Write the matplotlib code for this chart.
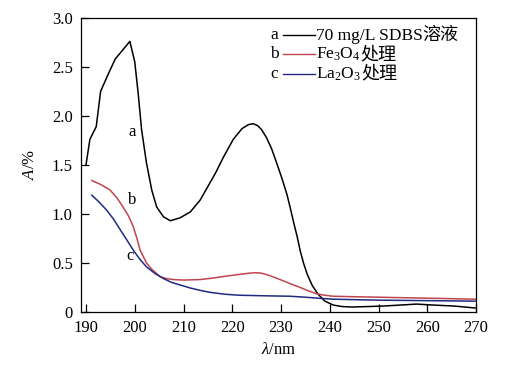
import matplotlib
matplotlib.use("Agg")
import matplotlib.pyplot as plt
from matplotlib.lines import Line2D
from matplotlib.ticker import FuncFormatter
from matplotlib.offsetbox import TextArea, HPacker, AnnotationBbox

plt.rcParams['font.family'] = ['Liberation Serif', 'Noto Sans CJK SC']
plt.rcParams['mathtext.fontset'] = 'custom'
plt.rcParams['mathtext.rm'] = 'Liberation Serif'
plt.rcParams['mathtext.it'] = 'Liberation Serif:italic'

# curve a: 70 mg/L SDBS solution
wl_a = [190.0, 190.8, 192.1, 193.0, 194.6, 196.0, 197.0, 198.0, 199.0, 200.0,
        200.7, 201.4, 202.4, 203.5, 204.5, 205.9, 207.3, 209.3, 211.4, 213.4,
        215.0, 216.6, 218.2, 220.2, 222.0, 223.3, 224.3, 225.2, 226.0, 227.0,
        228.1, 229.1, 230.2, 231.2, 231.9, 232.6, 233.3, 233.9, 234.6, 235.4,
        236.4, 237.6, 239.0, 240.7, 242.5, 244.5, 248.0, 251.0, 254.5, 257.8,
        261.2, 265.5, 269.8]
abs_a = [1.50, 1.76, 1.89, 2.25, 2.43, 2.58, 2.64, 2.70, 2.76, 2.55,
         2.23, 1.86, 1.52, 1.24, 1.07, 0.97, 0.93, 0.96, 1.02, 1.14,
         1.28, 1.42, 1.58, 1.76, 1.87, 1.91, 1.92, 1.90, 1.86, 1.78,
         1.66, 1.52, 1.36, 1.20, 1.06, 0.91, 0.77, 0.63, 0.50, 0.38,
         0.27, 0.18, 0.11, 0.07, 0.055, 0.05, 0.055, 0.06, 0.07, 0.08,
         0.07, 0.06, 0.04]

# curve b: Fe3O4 treated
wl_b = [191.2, 193.0, 194.9, 196.4, 197.6, 198.7, 199.7, 200.5, 201.1, 201.8,
        202.4, 203.4, 204.3, 205.2, 206.5, 207.9, 210.0, 213.4, 216.0, 218.0,
        221.0, 223.5, 224.7, 226.0, 227.7, 229.8, 231.8, 233.9, 235.6, 237.3,
        239.0, 240.7, 245.0, 250.0, 255.0, 260.0, 265.0, 269.8]
abs_b = [1.34, 1.30, 1.245, 1.16, 1.07, 0.98, 0.87, 0.74, 0.63, 0.56,
         0.50, 0.44, 0.40, 0.36, 0.34, 0.33, 0.325, 0.33, 0.345, 0.36,
         0.38, 0.395, 0.40, 0.395, 0.37, 0.33, 0.29, 0.25, 0.215, 0.185,
         0.17, 0.16, 0.155, 0.15, 0.145, 0.14, 0.135, 0.13]

# curve c: La2O3 treated
wl_c = [191.2, 192.7, 194.2, 195.6, 197.0, 198.3, 199.7, 201.0, 202.4, 204.2,
        205.9, 207.6, 209.3, 211.3, 213.4, 215.4, 218.5, 221.6, 226.0, 231.8,
        235.0, 237.6, 240.7, 245.0, 250.0, 260.0, 269.8]
abs_c = [1.19, 1.12, 1.04, 0.95, 0.84, 0.74, 0.63, 0.54, 0.46, 0.39,
         0.34, 0.30, 0.275, 0.245, 0.22, 0.20, 0.18, 0.17, 0.165, 0.16,
         0.15, 0.14, 0.13, 0.125, 0.12, 0.115, 0.11]

legend_tags = ["a", "b", "c"]
legend_formula = ["70 mg/L SDBS", "Fe$_3$O$_4$", "La$_2$O$_3$"]
legend_suffix = ["溶液", "处理", "处理"]
colors = ["black", "#c0444f", "#1f2a80"]

fig = plt.figure(figsize=(5.07, 3.79), dpi=100)
ax = fig.add_axes([0.160, 0.177, 0.779, 0.776])

for wl, ab, col in zip([wl_a, wl_b, wl_c], [abs_a, abs_b, abs_c], colors):
    ax.plot(wl, ab, color=col, lw=1.1)

# curve tags next to the lines
ax.text(199.5, 1.84, "a", fontsize=12, ha="center", va="center")
ax.text(199.5, 1.14, "b", fontsize=12, ha="center", va="center")
ax.text(199.0, 0.57, "c", fontsize=12, ha="center", va="center")

ax.set_xlim(189, 270)
ax.set_ylim(0, 3.0)
ax.set_xticks(range(190, 271, 10))
ax.set_yticks([0, 0.5, 1.0, 1.5, 2.0, 2.5, 3.0])
ax.yaxis.set_major_formatter(FuncFormatter(lambda v, p: "0" if v == 0 else f"{v:.1f}"))
ax.tick_params(direction="in", length=5.5, width=0.9, labelsize=12, pad=6,
               top=False, right=False)
for s in ax.spines.values():
    s.set_linewidth(0.9)

ax.set_xlabel("$\\mathit{\\lambda}$/nm", fontsize=12, labelpad=4)
ax.set_ylabel("$\\mathit{A}$/%", fontsize=12, labelpad=10)

# hand-made legend: tag, short line, label (formula + Chinese suffix)
for i, (tag, form, suf, col) in enumerate(zip(legend_tags, legend_formula,
                                               legend_suffix, colors)):
    y = 0.942 - i * 0.066
    ax.text(0.478, y, tag, transform=ax.transAxes, fontsize=12.5, ha="left", va="center")
    ax.add_line(Line2D([0.511, 0.592], [y, y], transform=ax.transAxes, color=col, lw=1.0))
    box = HPacker(children=[TextArea(form, textprops=dict(fontsize=12.5)),
                            TextArea(suf, textprops=dict(fontsize=13,
                                                         family=["Noto Sans CJK SC"]))],
                  align="baseline", sep=0, pad=0)
    ab = AnnotationBbox(box, (0.594, y), xycoords=ax.transAxes,
                        box_alignment=(0, 0.5), frameon=False, pad=0)
    ax.add_artist(ab)

fig.savefig("out.png", dpi=100)
